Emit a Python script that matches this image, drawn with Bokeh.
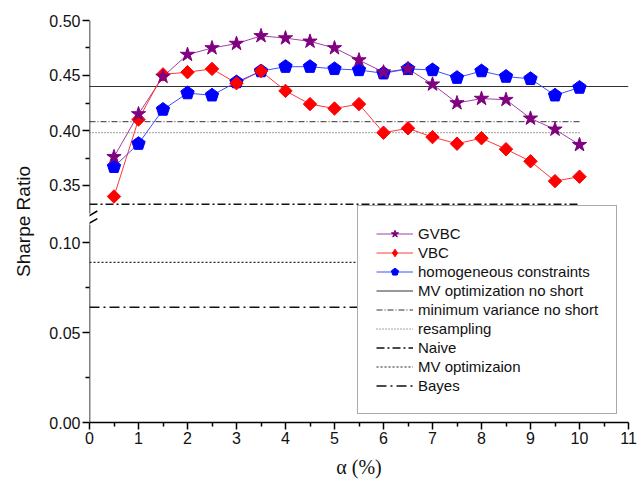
import numpy as np
from bokeh.plotting import figure
from bokeh.models import (Range1d, FixedTicker, ColumnDataSource, Legend,
                          LegendItem, Arrow)
from bokeh.embed import file_html
from bokeh.resources import INLINE

# ---------------- data ----------------
alpha = [0.5, 1.0, 1.5, 2.0, 2.5, 3.0, 3.5, 4.0, 4.5, 5.0,
         5.5, 6.0, 6.5, 7.0, 7.5, 8.0, 8.5, 9.0, 9.5, 10.0]
gvbc = [0.376, 0.415, 0.449, 0.469, 0.475, 0.479, 0.486, 0.484, 0.481, 0.475,
        0.464, 0.453, 0.456, 0.442, 0.425, 0.429, 0.428, 0.411, 0.401, 0.387]
vbc = [0.340, 0.410, 0.451, 0.453, 0.456, 0.443, 0.454, 0.436, 0.424, 0.420,
       0.424, 0.398, 0.402, 0.394, 0.388, 0.393, 0.383, 0.372, 0.354, 0.358]
homog = [0.367, 0.388, 0.419, 0.434, 0.432, 0.444, 0.454, 0.458, 0.458, 0.456,
         0.455, 0.452, 0.456, 0.455, 0.448, 0.454, 0.449, 0.447, 0.432, 0.439]

bench_names = ["MV optimization no short", "minimum variance no short",
               "resampling", "Naive", "MV optimizaion", "Bayes"]
bench_values = [0.440, 0.408, 0.398, 0.333, 0.089, 0.064]
bench_x_end = [11, 10, 10, 10, 10, 10]
bench_segment = ["upper", "upper", "upper", "upper", "default", "default"]

upper_ticks = [0.35, 0.40, 0.45, 0.50]
upper_minor = [0.375, 0.425, 0.475]
lower_ticks = [0.00, 0.05, 0.10]
lower_minor = [0.025, 0.075]
x_ticks = list(range(12))
x_minor = [i + 0.5 for i in range(11)]

# ---------------- layout of the broken axis ----------------
FRAME_H = 402
UP_PX = 1100.0   # px per unit, upper segment
LO_PX = 1800.0   # px per unit, lower segment
UP_TOP = 0.50
lower_end = FRAME_H / LO_PX
upper_start = UP_TOP - FRAME_H / UP_PX
LOWER_AXIS_TOP = 0.11
UPPER_AXIS_BOTTOM = 0.3245


def up_to_lo(v):
    return round((v - upper_start) * UP_PX / LO_PX, 6)


FONT = "Liberation Sans"
TXT = "#111111"

p = figure(width=640, height=482, x_range=Range1d(0, 11),
           y_range=Range1d(0, lower_end), output_backend="svg",
           toolbar_location=None, min_border_left=89, min_border_right=12,
           min_border_top=20, min_border_bottom=60)
p.extra_y_ranges = {"upper": Range1d(upper_start, UP_TOP)}
p.outline_line_color = None
p.xgrid.visible = False
p.ygrid.visible = False
p.background_fill_color = "white"
p.border_fill_color = "white"

# x axis
xa = p.xaxis[0]
xa.ticker = FixedTicker(ticks=x_ticks, minor_ticks=x_minor)
xa.bounds = (0, 11)
xa.axis_line_width = 1.5
xa.axis_line_color = "black"
xa.major_tick_line_width = 1.5
xa.minor_tick_line_width = 1.5
xa.major_tick_out = 7
xa.major_tick_in = 0
xa.minor_tick_out = 4
xa.minor_tick_in = 0
xa.major_label_standoff = 2
xa.major_label_text_font = FONT
xa.major_label_text_font_size = "16px"
xa.major_label_text_color = TXT
xa.axis_label = "α (%)"
xa.axis_label_text_font = "Liberation Serif"
xa.axis_label_text_font_style = "normal"
xa.axis_label_text_font_size = "20px"
xa.axis_label_text_color = TXT
xa.axis_label_standoff = 9

# y axis (one axis, ticks placed for both segments)
ya = p.yaxis[0]
tick_pos = lower_ticks + [up_to_lo(v) for v in upper_ticks]
tick_lab = ["%.2f" % v for v in lower_ticks] + ["%.2f" % v for v in upper_ticks]
minor_pos = lower_minor + [up_to_lo(v) for v in upper_minor]
ya.ticker = FixedTicker(ticks=tick_pos, minor_ticks=minor_pos)
ya.major_label_overrides = {t: l for t, l in zip(tick_pos, tick_lab)}
ya.axis_line_color = None
ya.major_tick_line_width = 1.5
ya.minor_tick_line_width = 1.5
ya.major_tick_out = 7
ya.major_tick_in = 0
ya.minor_tick_out = 4
ya.minor_tick_in = 0
ya.major_label_standoff = 2
ya.major_label_text_font = FONT
ya.major_label_text_font_size = "16px"
ya.major_label_text_color = TXT
ya.axis_label = "Sharpe Ratio"
ya.axis_label_text_font = FONT
ya.axis_label_text_font_style = "normal"
ya.axis_label_text_font_size = "19px"
ya.axis_label_text_color = TXT
ya.axis_label_standoff = 12

# axis line pieces and break marks
p.add_layout(Arrow(end=None, x_start=0, y_start=0, x_end=0, y_end=LOWER_AXIS_TOP,
                   line_width=1.5, line_color="black"))
p.add_layout(Arrow(end=None, x_start=0, y_start=UPPER_AXIS_BOTTOM, x_end=0,
                   y_end=UP_TOP, line_width=1.5, line_color="black",
                   y_range_name="upper"))
for yc in [0.1150, 0.1108]:
    p.add_layout(Arrow(end=None, x_start=-0.16, y_start=yc - 0.0025,
                       x_end=0.16, y_end=yc + 0.0025,
                       line_width=1.5, line_color="black"))

# benchmark lines
bench_styles = [
    dict(line_color="#333333", line_width=1.0, line_dash="solid"),
    dict(line_color="#333333", line_width=1.0, line_dash="6 2 1 2"),
    dict(line_color="#444444", line_width=1.0, line_dash="1 2"),
    dict(line_color="#111111", line_width=1.5, line_dash="8 3 2 3"),
    dict(line_color="#222222", line_width=1.2, line_dash="2 2"),
    dict(line_color="#111111", line_width=1.5, line_dash="10 4 2 4"),
]
bench_renderers = []
for name, v, xe, seg, st in zip(bench_names, bench_values, bench_x_end,
                                bench_segment, bench_styles):
    src = ColumnDataSource(dict(x=[0, xe], y=[v, v]))
    r = p.line("x", "y", source=src, y_range_name=seg, **st)
    bench_renderers.append(r)

# data series
src = ColumnDataSource(dict(x=alpha, g=gvbc, v=vbc, h=homog))
l_g = p.line("x", "g", source=src, y_range_name="upper",
             line_color="#a040a0", line_width=1.0)
l_v = p.line("x", "v", source=src, y_range_name="upper",
             line_color="#ff3838", line_width=1.0)
l_h = p.line("x", "h", source=src, y_range_name="upper",
             line_color="#3c50ff", line_width=1.0)
m_h = p.ngon("x", "h", source=src, y_range_name="upper", radius=7,
             radius_units="screen", n=5, angle=0,
             fill_color="#0000ff", line_color="#0000ff")
m_v = p.scatter("x", "v", source=src, y_range_name="upper", marker="square",
                angle=np.pi / 4, size=9.5, fill_color="#ff0000",
                line_color="#ff0000")
m_g = p.scatter("x", "g", source=src, y_range_name="upper", marker="star",
                size=15, fill_color="#800080", line_color="#800080")

# legend-only proxy for the diamond marker (a single NaN point, never drawn)
proxy_src = ColumnDataSource(dict(x=[np.nan], y=[np.nan]))
proxy_v = p.scatter("x", "y", source=proxy_src, y_range_name="upper",
                    marker="diamond", size=16, fill_color="#ff0000",
                    line_color="#ff0000")

items = [LegendItem(label="GVBC", renderers=[l_g, m_g]),
         LegendItem(label="VBC", renderers=[l_v, proxy_v]),
         LegendItem(label="homogeneous constraints", renderers=[l_h, m_h])]
for name, r in zip(bench_names, bench_renderers):
    items.append(LegendItem(label=name, renderers=[r]))

legend = Legend(items=items, location=(268, 8), orientation="vertical",
                border_line_color="#555555", border_line_width=1.5,
                background_fill_color="white", background_fill_alpha=1.0,
                padding=18, spacing=0, margin=0, label_height=19,
                glyph_height=19, glyph_width=37, label_standoff=5,
                label_text_font=FONT, label_text_font_size="15px",
                label_text_color=TXT)
p.add_layout(legend)

open("out.html", "w").write(file_html(p, INLINE))
